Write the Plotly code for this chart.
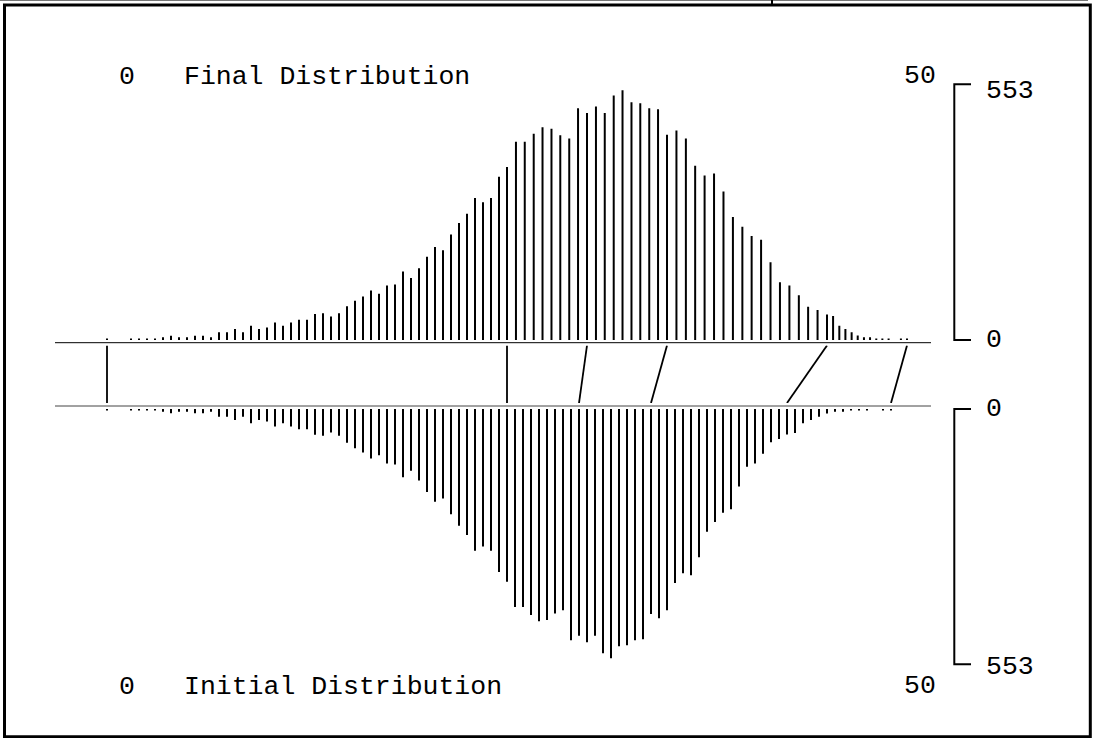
import plotly.graph_objects as go

# ---------------- data ----------------
initial_x = [0.0, 0.5, 1.0, 1.5, 2.0, 2.5, 3.0, 3.5, 4.0, 4.5,
             5.0, 5.5, 6.0, 6.5, 7.0, 7.5, 8.0, 8.5, 9.0, 9.5,
             10.0, 10.5, 11.0, 11.5, 12.0, 12.5, 13.0, 13.5, 14.0, 14.5,
             15.0, 15.5, 16.0, 16.5, 17.0, 17.5, 18.0, 18.5, 19.0, 19.5,
             20.0, 20.5, 21.0, 21.5, 22.0, 22.5, 23.0, 23.5, 24.0, 24.5,
             25.0, 25.5, 26.0, 26.5, 27.0, 27.5, 28.0, 28.5, 29.0, 29.5,
             30.0, 30.5, 31.0, 31.5, 32.0, 32.5, 33.0, 33.5, 34.0, 34.5,
             35.0, 35.5, 36.0, 36.5, 37.0, 37.5, 38.0, 38.5, 39.0, 39.5,
             40.0, 40.5, 41.0, 41.5, 42.0, 42.5, 43.0, 43.5, 44.0, 44.5,
             45.0, 45.5, 46.0, 46.5, 47.0, 47.5, 48.0, 48.5, 49.0]

final_x = [0.0, 0.5, 1.0, 1.5, 2.0, 2.5, 3.0, 3.5, 4.0, 4.5,
           5.0, 5.5, 6.0, 6.5, 7.0, 7.5, 8.0, 8.5, 9.0, 9.5,
           10.0, 10.5, 11.0, 11.5, 12.0, 12.5, 13.0, 13.5, 14.0, 14.5,
           15.0, 15.5, 16.0, 16.5, 17.0, 17.5, 18.0, 18.5, 19.0, 19.5,
           20.0, 20.5, 21.0, 21.5, 22.0, 22.5, 23.0, 23.5, 24.0, 24.5,
           25.0, 25.56, 26.11, 26.67, 27.22, 27.78, 28.33, 28.89, 29.44, 30.0,
           30.56, 31.11, 31.67, 32.22, 32.78, 33.33, 33.89, 34.44, 35.0, 35.59,
           36.18, 36.76, 37.35, 37.94, 38.53, 39.12, 39.71, 40.29, 40.88, 41.47,
           42.06, 42.65, 43.24, 43.82, 44.41, 45.0, 45.38, 45.77, 46.15, 46.54,
           46.92, 47.31, 47.69, 48.08, 48.46, 48.85, 49.23, 49.62, 50.0]

counts = [3, 0, 0, 3, 3, 3, 3, 6, 9, 6,
          6, 9, 9, 6, 17, 17, 24, 17, 31, 24,
          27, 38, 31, 38, 44, 44, 56, 58, 51, 58,
          73, 85, 94, 107, 100, 118, 120, 148, 134, 155,
          180, 201, 194, 228, 253, 273, 307, 298, 307, 353,
          374, 429, 429, 446, 460, 457, 443, 436, 501, 491,
          505, 491, 529, 540, 514, 512, 501, 499, 444, 453,
          436, 377, 356, 360, 321, 266, 245, 225, 217, 168,
          125, 118, 97, 72, 65, 55, 52, 31, 24, 17,
          10, 6, 6, 3, 3, 3, 0, 3, 3]

# mapping nodes drawn as connectors (initial value -> final value)
node_initial = [0, 25, 29.5, 34, 42.5, 49]
node_final = [0, 25, 30, 35, 45, 50]

scale_max = 553
x_min_label, x_max_label = "0", "50"
top_title = "Final Distribution"
bottom_title = "Initial Distribution"

# ---------------- layout geometry (pixels) ----------------
W, H = 1093, 738
X0_PX, X50_PX = 107, 907
ppu = (X50_PX - X0_PX) / 50.0
x_range = [-X0_PX / ppu, (W - X0_PX) / ppu]


def xv(px):
    return (px - X0_PX) / ppu


def yp(py):
    return 1 - py / H


TOP_ZERO, TOP_FULL = 340.0, 84.3
BOT_ZERO, BOT_FULL = 409.0, 664.3
ppv_t = (TOP_ZERO - TOP_FULL) / scale_max
ppv_b = (BOT_FULL - BOT_ZERO) / scale_max
PAD = 10
top_domain = [yp(TOP_ZERO + PAD * ppv_t), yp(TOP_ZERO - (scale_max + PAD) * ppv_t)]
bot_domain = [yp(BOT_ZERO + (scale_max + PAD) * ppv_b), yp(BOT_ZERO - PAD * ppv_b)]
CON_TOP, CON_BOT = 345.5, 403.0
con_domain = [yp(CON_BOT), yp(CON_TOP)]

top_base_val = (TOP_ZERO - 342.7) / ppv_t
bot_base_val = (406.0 - BOT_ZERO) / ppv_b

FONT = "Liberation Mono, Courier New, monospace"

fig = go.Figure()


def stems(xs, vs):
    X, Y = [], []
    for x, v in zip(xs, vs):
        X += [x, x, None]
        Y += [0, v, None]
    return X, Y


tx, ty = stems(final_x, counts)
fig.add_trace(go.Scatter(x=tx, y=ty, mode="lines", yaxis="y",
                         line=dict(color="black", width=2), hoverinfo="skip"))
bx, by = stems(initial_x, counts)
fig.add_trace(go.Scatter(x=bx, y=by, mode="lines", yaxis="y2",
                         line=dict(color="black", width=2), hoverinfo="skip"))

# baselines
base_x = [xv(55), xv(931)]
fig.add_trace(go.Scatter(x=base_x, y=[top_base_val, top_base_val], mode="lines", yaxis="y",
                         line=dict(color="black", width=1), hoverinfo="skip"))
fig.add_trace(go.Scatter(x=base_x, y=[bot_base_val, bot_base_val], mode="lines", yaxis="y2",
                         line=dict(color="#444", width=1), hoverinfo="skip"))

# connectors
cx, cy = [], []
for a, b in zip(node_initial, node_final):
    cx += [a, b, None]
    cy += [0, 1, None]
fig.add_trace(go.Scatter(x=cx, y=cy, mode="lines", yaxis="y3",
                         line=dict(color="black", width=1.8), hoverinfo="skip"))

# scale brackets
bx0, bx1 = xv(954.3), xv(971)
fig.add_trace(go.Scatter(x=[bx1, bx0, bx0, bx1], y=[scale_max, scale_max, 0, 0], mode="lines",
                         yaxis="y", line=dict(color="black", width=2), hoverinfo="skip"))
fig.add_trace(go.Scatter(x=[bx1, bx0, bx0, bx1], y=[0, 0, scale_max, scale_max], mode="lines",
                         yaxis="y2", line=dict(color="black", width=2), hoverinfo="skip"))

ann = []
tf = dict(family=FONT, size=26.5, color="black")
lx = xv(984)
ann.append(dict(x=lx, y=scale_max, xref="x", yref="y", text=str(scale_max), xanchor="left",
                yanchor="middle", showarrow=False, font=tf, yshift=-7))
ann.append(dict(x=lx, y=0, xref="x", yref="y", text="0", xanchor="left",
                yanchor="middle", showarrow=False, font=tf))
ann.append(dict(x=lx, y=0, xref="x", yref="y2", text="0", xanchor="left",
                yanchor="middle", showarrow=False, font=tf))
ann.append(dict(x=lx, y=scale_max, xref="x", yref="y2", text=str(scale_max), xanchor="left",
                yanchor="middle", showarrow=False, font=tf, yshift=-3))

for py, title in [(77, top_title), (687, bottom_title)]:
    ann.append(dict(x=xv(127), y=yp(py), xref="x", yref="paper", text=x_min_label,
                    xanchor="center", yanchor="middle", showarrow=False, font=tf))
    ann.append(dict(x=xv(182), y=yp(py), xref="x", yref="paper", text=title,
                    xanchor="left", yanchor="middle", showarrow=False, font=tf))
    ann.append(dict(x=xv(919.5), y=yp(py - 1), xref="x", yref="paper", text=x_max_label,
                    xanchor="center", yanchor="middle", showarrow=False, font=tf))

shapes = [
    dict(type="rect", xref="paper", yref="paper", x0=4.5 / W, x1=1090.3 / W,
         y0=yp(736.8), y1=yp(5), line=dict(color="black", width=3)),
    dict(type="line", xref="paper", yref="paper", x0=0, x1=1088 / W,
         y0=yp(0.5), y1=yp(0.5), line=dict(color="#777", width=1)),
    dict(type="line", xref="paper", yref="paper", x0=772 / W, x1=772 / W,
         y0=yp(0), y1=yp(5), line=dict(color="black", width=2)),
]

axis_off = dict(visible=False, showgrid=False, zeroline=False, fixedrange=True)
fig.update_layout(
    width=W, height=H,
    margin=dict(l=0, r=0, t=0, b=0),
    paper_bgcolor="white", plot_bgcolor="white",
    showlegend=False,
    xaxis=dict(range=x_range, domain=[0, 1], **axis_off),
    yaxis=dict(range=[-PAD, scale_max + PAD], domain=top_domain, anchor="x", **axis_off),
    yaxis2=dict(range=[scale_max + PAD, -PAD], domain=bot_domain, anchor="x", **axis_off),
    yaxis3=dict(range=[0, 1], domain=con_domain, anchor="x", **axis_off),
    annotations=ann,
    shapes=shapes,
)

fig.write_html("out.html", config={"displayModeBar": False},
               post_script="document.body.style.margin='0px';document.body.style.overflow='hidden';")
